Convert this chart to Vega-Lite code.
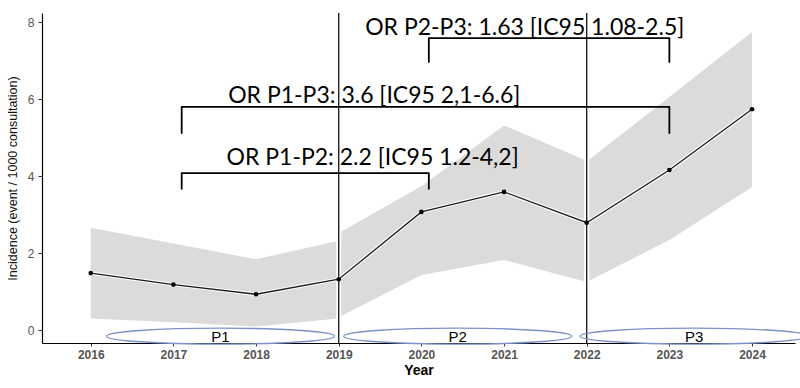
{
  "$schema": "https://vega.github.io/schema/vega-lite/v6.json",
  "autosize": {"type": "none"},
  "width": 753,
  "height": 330,
  "padding": {"left": 42, "top": 13, "right": 5, "bottom": 45},
  "background": "white",
  "config": {
    "view": {"stroke": null},
    "axis": {
      "grid": false,
      "domainColor": "#000000",
      "domainWidth": 1.2,
      "tickColor": "#333333",
      "tickSize": 3,
      "labelColor": "#555555",
      "labelFont": "Liberation Sans",
      "labelFontSize": 12,
      "labelFontWeight": "bold",
      "titleFont": "Liberation Sans",
      "titleColor": "#111111"
    }
  },
  "datasets": {
    "band": [
      {"seg": 1, "year": 2016, "lo": 0.30, "hi": 2.66},
      {"seg": 1, "year": 2017, "lo": 0.20, "hi": 2.25},
      {"seg": 1, "year": 2018, "lo": 0.09, "hi": 1.84},
      {"seg": 1, "year": 2019, "lo": 0.30, "hi": 2.32},
      {"seg": 2, "year": 2019, "lo": 0.33, "hi": 2.52},
      {"seg": 2, "year": 2020, "lo": 1.43, "hi": 3.74},
      {"seg": 2, "year": 2021, "lo": 1.82, "hi": 5.32},
      {"seg": 2, "year": 2022, "lo": 1.25, "hi": 4.40},
      {"seg": 3, "year": 2022, "lo": 1.25, "hi": 4.38},
      {"seg": 3, "year": 2023, "lo": 2.34, "hi": 6.06},
      {"seg": 3, "year": 2024, "lo": 3.72, "hi": 7.75}
    ],
    "series": [
      {"year": 2016, "v": 1.48},
      {"year": 2017, "v": 1.18},
      {"year": 2018, "v": 0.93},
      {"year": 2019, "v": 1.32},
      {"year": 2020, "v": 3.07},
      {"year": 2021, "v": 3.59},
      {"year": 2022, "v": 2.79},
      {"year": 2023, "v": 4.16},
      {"year": 2024, "v": 5.74}
    ],
    "breaks": [{"year": 2019}, {"year": 2022}],
    "periods": [
      {"p": "P1", "year": 2017.57, "v": -0.16},
      {"p": "P2", "year": 2020.44, "v": -0.16},
      {"p": "P3", "year": 2023.30, "v": -0.16}
    ],
    "brackets": [
      {"b": "P1-P2", "ord": 1, "year": 2017.10, "v": 3.67},
      {"b": "P1-P2", "ord": 2, "year": 2017.10, "v": 4.08},
      {"b": "P1-P2", "ord": 3, "year": 2020.09, "v": 4.08},
      {"b": "P1-P2", "ord": 4, "year": 2020.09, "v": 3.67},
      {"b": "P1-P3", "ord": 1, "year": 2017.10, "v": 5.12},
      {"b": "P1-P3", "ord": 2, "year": 2017.10, "v": 5.80},
      {"b": "P1-P3", "ord": 3, "year": 2023.00, "v": 5.80},
      {"b": "P1-P3", "ord": 4, "year": 2023.00, "v": 5.12},
      {"b": "P2-P3", "ord": 1, "year": 2020.09, "v": 6.97},
      {"b": "P2-P3", "ord": 2, "year": 2020.09, "v": 7.59},
      {"b": "P2-P3", "ord": 3, "year": 2023.00, "v": 7.59},
      {"b": "P2-P3", "ord": 4, "year": 2023.00, "v": 6.97}
    ],
    "notes": [
      {"label": "OR P2-P3: 1.63 [IC95 1.08-2.5]", "year": 2021.25, "v": 7.67},
      {"label": "OR P1-P3: 3.6 [IC95 2,1-6.6]", "year": 2019.43, "v": 5.90},
      {"label": "OR P1-P2: 2.2 [IC95 1.2-4,2]", "year": 2019.41, "v": 4.29}
    ]
  },
  "encoding": {
    "x": {
      "field": "year",
      "type": "quantitative",
      "title": "Year",
      "scale": {"domain": [2015.41, 2024.52], "nice": false, "zero": false},
      "axis": {
        "values": [2016, 2017, 2018, 2019, 2020, 2021, 2022, 2023, 2024],
        "format": "d",
        "labelPadding": 3,
        "titlePadding": 3,
        "titleFontSize": 14,
        "titleFontWeight": "bold",
        "titleColor": "#000000"
      }
    }
  },
  "layer": [
    {
      "data": {"name": "band"},
      "mark": {"type": "area", "color": "#dcdbd9", "opacity": 1},
      "encoding": {
        "y": {
          "field": "lo",
          "type": "quantitative",
          "title": "Incidence (event / 1000 consultation)",
          "scale": {"domain": [-0.338, 8.242], "nice": false, "zero": false},
          "axis": {
            "values": [0, 2, 4, 6, 8],
            "tickSize": 4,
            "labelPadding": 4,
            "labelFontWeight": "normal",
            "labelFontSize": 12,
            "titleFontSize": 12.5,
            "titleFontWeight": "normal",
            "titlePadding": 8
          }
        },
        "y2": {"field": "hi"},
        "detail": {"field": "seg", "type": "nominal"}
      }
    },
    {
      "data": {"name": "breaks"},
      "mark": {"type": "rule", "color": "#ffffff", "strokeWidth": 5},
      "encoding": {}
    },
    {
      "data": {"name": "breaks"},
      "mark": {"type": "rule", "color": "#111111", "strokeWidth": 1.3},
      "encoding": {}
    },
    {
      "data": {"name": "series"},
      "mark": {"type": "line", "color": "#ffffff", "strokeWidth": 3.5},
      "encoding": {
        "y": {"field": "v", "type": "quantitative", "title": "Incidence (event / 1000 consultation)", "scale": {"domain": [-0.338, 8.242], "nice": false, "zero": false}}
      }
    },
    {
      "data": {"name": "series"},
      "mark": {"type": "line", "color": "#1a1a1a", "strokeWidth": 1.3},
      "encoding": {
        "y": {"field": "v", "type": "quantitative", "title": "Incidence (event / 1000 consultation)", "scale": {"domain": [-0.338, 8.242], "nice": false, "zero": false}}
      }
    },
    {
      "data": {"name": "series"},
      "mark": {"type": "point", "filled": true, "color": "#000000", "size": 22, "opacity": 1},
      "encoding": {
        "y": {"field": "v", "type": "quantitative", "title": "Incidence (event / 1000 consultation)", "scale": {"domain": [-0.338, 8.242], "nice": false, "zero": false}}
      }
    },
    {
      "data": {"name": "periods"},
      "mark": {
        "type": "point",
        "shape": "M-1,0A1,0.07,0,1,0,1,0A1,0.07,0,1,0,-1,0Z",
        "size": 51984,
        "filled": false,
        "stroke": "#7b93c8",
        "strokeWidth": 1.4,
        "opacity": 1
      },
      "encoding": {
        "y": {"field": "v", "type": "quantitative", "title": "Incidence (event / 1000 consultation)", "scale": {"domain": [-0.338, 8.242], "nice": false, "zero": false}}
      }
    },
    {
      "data": {"name": "periods"},
      "mark": {"type": "text", "font": "Liberation Sans", "fontSize": 15, "color": "#000000", "baseline": "middle", "align": "center", "dy": 1},
      "encoding": {
        "y": {"field": "v", "type": "quantitative", "title": "Incidence (event / 1000 consultation)", "scale": {"domain": [-0.338, 8.242], "nice": false, "zero": false}},
        "text": {"field": "p"}
      }
    },
    {
      "data": {"name": "brackets"},
      "mark": {"type": "line", "color": "#000000", "strokeWidth": 1.8, "strokeJoin": "round", "strokeCap": "round"},
      "encoding": {
        "y": {"field": "v", "type": "quantitative", "title": "Incidence (event / 1000 consultation)", "scale": {"domain": [-0.338, 8.242], "nice": false, "zero": false}},
        "detail": {"field": "b", "type": "nominal"},
        "order": {"field": "ord", "type": "quantitative"}
      }
    },
    {
      "data": {"name": "notes"},
      "mark": {"type": "text", "font": "Lato", "fontSize": 23, "color": "#000000", "baseline": "alphabetic", "align": "center"},
      "encoding": {
        "y": {"field": "v", "type": "quantitative", "title": "Incidence (event / 1000 consultation)", "scale": {"domain": [-0.338, 8.242], "nice": false, "zero": false}},
        "text": {"field": "label"}
      }
    }
  ]
}
